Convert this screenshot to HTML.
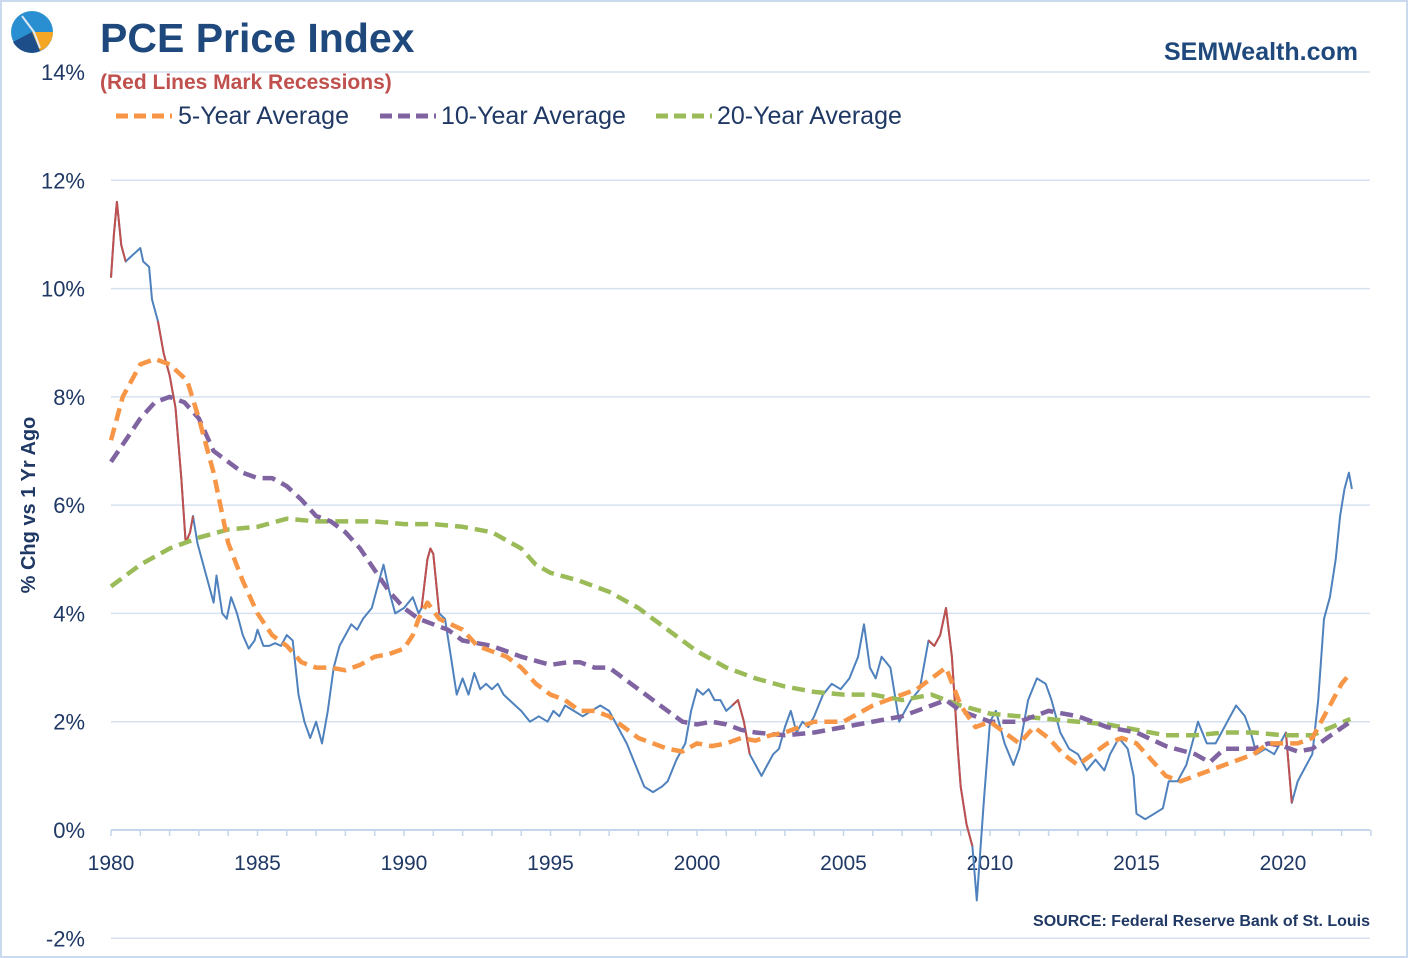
<!DOCTYPE html>
<html><head><meta charset="utf-8"><style>
body{margin:0;background:#fff}
svg{display:block}
text{font-family:"Liberation Sans",sans-serif}
</style></head><body>
<svg id="chart" width="1408" height="958" viewBox="0 0 1408 958">
<rect x="1" y="1" width="1406" height="956" fill="#fff" stroke="#c9d9ee" stroke-width="2"/>
<g>
<circle cx="32" cy="32" r="21" fill="#2a8fd0"/>
<path d="M32 32 L53 32 A21 21 0 0 1 40 51 Z" fill="#f5a623"/>
<path d="M32 32 L40 51 A21 21 0 0 1 13 42 Z" fill="#1d4e89"/>
<path d="M22 16 L34 32 L40 48" stroke="#dfe8f3" stroke-width="2" fill="none"/>
</g>
<text x="100" y="52" font-size="41" font-weight="bold" fill="#1f497d">PCE Price Index</text>
<text x="100" y="89" font-size="21" font-weight="bold" fill="#c0504d">(Red Lines Mark Recessions)</text>
<text x="1358" y="60" font-size="25" font-weight="bold" fill="#1f497d" text-anchor="end">SEMWealth.com</text>
<text x="1370" y="926" font-size="16" font-weight="bold" fill="#1f3864" text-anchor="end">SOURCE:  Federal Reserve Bank of St. Louis</text>
<text transform="translate(35,505) rotate(-90)" font-size="20" font-weight="bold" fill="#1f3864" text-anchor="middle">% Chg vs 1 Yr Ago</text>
<g>
<g><line x1="116" y1="116" x2="172" y2="116" stroke="#f79646" stroke-width="5" stroke-dasharray="12,6"/><text x="178" y="124" font-size="25" fill="#1f3864">5-Year Average</text></g>
<g><line x1="380" y1="116" x2="436" y2="116" stroke="#8064a2" stroke-width="5" stroke-dasharray="12,6"/><text x="441" y="124" font-size="25" fill="#1f3864">10-Year Average</text></g>
<g><line x1="656" y1="116" x2="712" y2="116" stroke="#9bbb59" stroke-width="5" stroke-dasharray="12,6"/><text x="717" y="124" font-size="25" fill="#1f3864">20-Year Average</text></g>
</g>
<g id="grid"></g><g id="axes"></g><g id="series"></g>
</svg>
<script>
const yTicks=[-2,0,2,4,6,8,10,12,14];
const xTicks=[1980,1985,1990,1995,2000,2005,2010,2015,2020];
const recessions=[[1980.0,1980.5],[1981.5,1982.9],[1990.6,1991.2],[2001.2,2001.9],[2007.9,2009.5],[2020.1,2020.4]];
const pceYears=[1980.0,1980.1,1980.2,1980.35,1980.5,1980.7,1980.9,1981.0,1981.1,1981.3,1981.4,1981.6,1981.8,1982.0,1982.2,1982.4,1982.55,1982.7,1982.8,1982.95,1983.1,1983.3,1983.5,1983.6,1983.8,1983.95,1984.1,1984.3,1984.5,1984.7,1984.9,1985.0,1985.2,1985.4,1985.6,1985.8,1986.0,1986.2,1986.4,1986.6,1986.8,1987.0,1987.2,1987.4,1987.6,1987.8,1988.0,1988.2,1988.4,1988.6,1988.9,1989.1,1989.3,1989.5,1989.7,1990.0,1990.3,1990.5,1990.6,1990.8,1990.9,1991.0,1991.2,1991.4,1991.6,1991.8,1992.0,1992.2,1992.4,1992.6,1992.8,1993.0,1993.2,1993.4,1993.6,1993.8,1994.0,1994.3,1994.6,1994.9,1995.1,1995.3,1995.5,1995.8,1996.1,1996.4,1996.7,1997.0,1997.3,1997.6,1997.9,1998.2,1998.5,1998.8,1999.0,1999.3,1999.6,1999.8,2000.0,2000.2,2000.4,2000.6,2000.8,2001.0,2001.2,2001.4,2001.6,2001.8,2002.0,2002.2,2002.4,2002.6,2002.8,2003.0,2003.2,2003.4,2003.6,2003.8,2004.0,2004.3,2004.6,2004.9,2005.2,2005.5,2005.7,2005.9,2006.1,2006.3,2006.6,2006.9,2007.1,2007.3,2007.6,2007.9,2008.1,2008.3,2008.5,2008.7,2008.9,2009.0,2009.2,2009.4,2009.55,2009.8,2010.0,2010.2,2010.5,2010.8,2011.0,2011.3,2011.6,2011.9,2012.1,2012.4,2012.7,2013.0,2013.3,2013.6,2013.9,2014.1,2014.4,2014.7,2014.9,2015.0,2015.3,2015.6,2015.9,2016.1,2016.4,2016.7,2016.9,2017.1,2017.4,2017.7,2017.9,2018.1,2018.4,2018.7,2018.9,2019.1,2019.4,2019.7,2019.9,2020.1,2020.3,2020.5,2020.8,2021.0,2021.2,2021.4,2021.6,2021.8,2021.95,2022.1,2022.25,2022.35];
const pceValues=[10.2,11.0,11.6,10.8,10.5,10.6,10.7,10.75,10.5,10.4,9.8,9.4,8.8,8.4,7.8,6.5,5.3,5.5,5.8,5.3,5.0,4.6,4.2,4.7,4.0,3.9,4.3,4.0,3.6,3.35,3.5,3.7,3.4,3.4,3.45,3.4,3.6,3.5,2.5,2.0,1.7,2.0,1.6,2.2,3.0,3.4,3.6,3.8,3.7,3.9,4.1,4.5,4.9,4.4,4.0,4.1,4.3,4.0,4.1,5.0,5.2,5.1,4.0,3.9,3.2,2.5,2.8,2.5,2.9,2.6,2.7,2.6,2.7,2.5,2.4,2.3,2.2,2.0,2.1,2.0,2.2,2.1,2.3,2.2,2.1,2.2,2.3,2.2,1.9,1.6,1.2,0.8,0.7,0.8,0.9,1.3,1.6,2.2,2.6,2.5,2.6,2.4,2.4,2.2,2.3,2.4,2.0,1.4,1.2,1.0,1.2,1.4,1.5,1.9,2.2,1.8,2.0,1.9,2.1,2.5,2.7,2.6,2.8,3.2,3.8,3.0,2.8,3.2,3.0,2.0,2.2,2.4,2.6,3.5,3.4,3.6,4.1,3.2,1.5,0.8,0.1,-0.3,-1.3,0.6,2.0,2.2,1.6,1.2,1.5,2.4,2.8,2.7,2.4,1.8,1.5,1.4,1.1,1.3,1.1,1.4,1.7,1.5,1.0,0.3,0.2,0.3,0.4,0.9,0.9,1.2,1.6,2.0,1.6,1.6,1.8,2.0,2.3,2.1,1.8,1.4,1.5,1.4,1.6,1.8,0.5,0.9,1.2,1.4,2.4,3.9,4.3,5.0,5.8,6.3,6.6,6.3];
const avg5Years=[1980,1980.4,1981,1981.5,1982,1982.6,1983,1983.5,1984,1984.5,1985,1985.5,1986,1986.5,1987,1987.5,1988,1988.5,1989,1989.5,1990,1990.3,1990.5,1990.8,1991.2,1991.6,1992,1992.5,1993,1993.5,1994,1994.5,1995,1995.5,1996,1996.5,1997,1997.5,1998,1998.5,1999,1999.5,2000,2000.5,2001,2001.5,2002,2002.5,2003,2003.5,2004,2005,2006,2007,2007.5,2008,2008.5,2009,2009.5,2010,2010.5,2011,2011.5,2012,2012.5,2013,2013.5,2014,2014.5,2015,2015.5,2016,2016.5,2017,2017.5,2018,2018.5,2019,2019.5,2020,2020.5,2021,2021.5,2022,2022.3];
const avg5Values=[7.2,8.0,8.6,8.7,8.6,8.3,7.6,6.6,5.3,4.6,4.0,3.6,3.4,3.1,3.0,3.0,2.95,3.05,3.2,3.25,3.35,3.6,3.9,4.2,3.9,3.8,3.7,3.4,3.3,3.2,3.0,2.7,2.5,2.4,2.2,2.2,2.1,1.9,1.7,1.6,1.5,1.45,1.6,1.55,1.6,1.7,1.65,1.75,1.8,1.9,2.0,2.0,2.3,2.5,2.6,2.8,3.0,2.3,1.9,2.0,1.8,1.6,1.9,1.7,1.4,1.2,1.4,1.6,1.7,1.6,1.3,1.0,0.9,1.0,1.1,1.2,1.3,1.4,1.6,1.6,1.6,1.7,2.2,2.7,2.9];
const avg10Years=[1980,1980.5,1981,1981.5,1982,1982.5,1983,1983.5,1984,1984.5,1985,1985.5,1986,1986.5,1987,1987.5,1988,1988.5,1989,1989.5,1990,1990.5,1991,1991.5,1992,1993,1994,1995,1995.6,1996,1996.5,1997,1997.5,1998,1998.5,1999,1999.5,2000,2000.5,2001,2001.5,2002,2003,2004,2005,2006,2007,2008,2008.5,2009,2009.5,2010,2011,2011.5,2012,2013,2014,2015,2016,2017,2017.5,2018,2018.5,2019,2019.5,2020,2020.5,2021,2021.5,2022.3];
const avg10Values=[6.8,7.2,7.6,7.9,8.0,7.9,7.6,7.0,6.8,6.6,6.5,6.5,6.35,6.1,5.8,5.7,5.5,5.2,4.8,4.4,4.1,3.9,3.8,3.7,3.5,3.4,3.2,3.05,3.1,3.1,3.0,3.0,2.8,2.6,2.4,2.2,2.0,1.95,2.0,1.95,1.85,1.8,1.75,1.8,1.9,2.0,2.1,2.3,2.4,2.2,2.1,2.0,2.0,2.1,2.2,2.1,1.9,1.8,1.55,1.4,1.25,1.5,1.5,1.5,1.6,1.55,1.45,1.5,1.7,2.0];
const avg20Years=[1980,1981,1982,1983,1984,1985,1986,1987,1988,1989,1990,1991,1992,1993,1994,1994.5,1995,1996,1997,1998,1999,2000,2001,2002,2003,2004,2005,2006,2007,2008,2009,2010,2011,2012,2013,2014,2015,2016,2017,2018,2019,2020,2021,2022.3];
const avg20Values=[4.5,4.9,5.2,5.4,5.55,5.6,5.75,5.7,5.7,5.7,5.65,5.65,5.6,5.5,5.2,4.9,4.75,4.6,4.4,4.1,3.7,3.3,3.0,2.8,2.65,2.55,2.5,2.5,2.4,2.5,2.3,2.15,2.1,2.05,2.0,1.95,1.85,1.75,1.75,1.8,1.8,1.75,1.75,2.05];

const NS="http://www.w3.org/2000/svg";
const X0=111,X1=1370;
const xs=yr=>111+(yr-1980)*(1283-111)/40;
const ys=v=>830-v*(830-72)/14;
function mk(tag,attrs,parent){const e=document.createElementNS(NS,tag);for(const k in attrs)e.setAttribute(k,attrs[k]);parent.appendChild(e);return e;}
const grid=document.getElementById('grid'),axes=document.getElementById('axes'),ser=document.getElementById('series');
yTicks.forEach(v=>{
  const l=mk('line',{x1:X0,x2:X1,y1:ys(v),y2:ys(v),stroke:v===0?'#c5d5ea':'#d6e2f1','stroke-width':v===0?2:1.5},grid);
  
  
  const t=mk('text',{x:85,y:ys(v)+8,'font-size':22,fill:'#1f3864','text-anchor':'end'},axes);
  t.textContent=v+'%';
  
  
});
for(let yr=1980;yr<=2023;yr++){
  const tk=mk('line',{x1:xs(yr),x2:xs(yr),y1:830,y2:836,stroke:'#c5d5ea','stroke-width':1.5},axes);
  
  
}
xTicks.forEach(yr=>{
  const t=mk('text',{x:xs(yr),y:870,'font-size':21,fill:'#1f3864','text-anchor':'middle'},axes);
  t.textContent=yr;
  
  
});
function pts(yrs,vals){return yrs.map((y,i)=>xs(y).toFixed(1)+','+ys(vals[i]).toFixed(1)).join(' ');}
function dashed(yrs,vals,color,name){
  const p=mk('polyline',{points:pts(yrs,vals),fill:'none',stroke:color,'stroke-width':4.5,'stroke-dasharray':'13,7','stroke-linejoin':'round'},ser);
  
  
}
const main=mk('polyline',{points:pts(pceYears,pceValues),fill:'none',stroke:'#4f81bd','stroke-width':2,'stroke-linejoin':'round'},ser);


recessions.forEach(([a,b])=>{
  const yy=[],vv=[];
  pceYears.forEach((y,i)=>{if(y>=a-0.001&&y<=b+0.001){yy.push(y);vv.push(pceValues[i]);}});
  if(yy.length>1){
    const r=mk('polyline',{points:pts(yy,vv),fill:'none',stroke:'#c0504d','stroke-width':2,'stroke-linejoin':'round'},ser);
    
    
  }
});
dashed(avg20Years,avg20Values,'#9bbb59','avg-20yr-line');
dashed(avg10Years,avg10Values,'#8064a2','avg-10yr-line');
dashed(avg5Years,avg5Values,'#f79646','avg-5yr-line');
</script>
</body></html>
